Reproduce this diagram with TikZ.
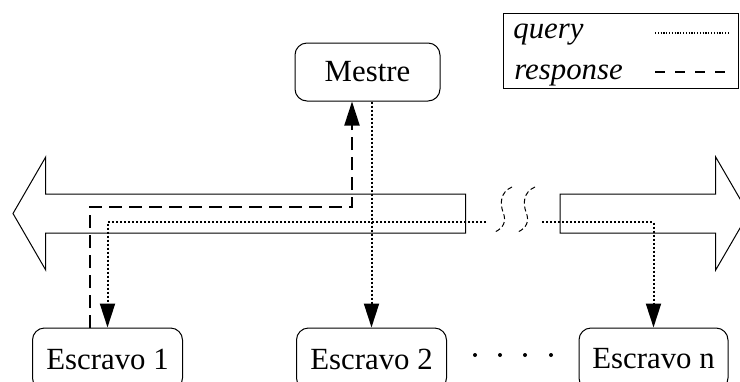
\documentclass[tikz,border=0pt]{standalone}
\usepackage{fontspec}
\setmainfont{Liberation Serif}
\usetikzlibrary{arrows.meta}

\begin{document}
\begin{tikzpicture}[x=0.5pt,y=-0.5pt,font=\fontsize{15.4pt}{18pt}\selectfont]
\useasboundingbox (0,0) rectangle (740,381);
\clip (0,0) rectangle (740,381);
\tikzstyle{box}=[draw,line width=0.5pt,rounded corners=6pt,inner sep=0pt,minimum height=29pt]
\tikzstyle{query}=[line width=1pt,dash pattern=on 1pt off 1pt]
\tikzstyle{response}=[line width=1pt,dash pattern=on 6.5pt off 3.5pt]
\tikzstyle{tip}=[-{Triangle[length=12pt,width=7.5pt]}]
\tikzstyle{cut}=[line width=0.5pt,dash pattern=on 2.5pt off 1.5pt]
% bus
\draw[line width=0.5pt] (465.7,194) -- (45.7,194) -- (45.7,157) -- (13,213.5) -- (45.7,270) -- (45.7,233) -- (465.7,233) -- cycle;
\draw[line width=0.5pt] (560,194) -- (715.7,194) -- (715.7,157) -- (748.5,213.5) -- (715.7,270) -- (715.7,233) -- (560,233) -- cycle;
\draw[cut] (512,187) .. controls (500,192) and (500,204) .. (503,212) .. controls (507,222) and (503,228) .. (495,232);
\draw[cut] (535,187) .. controls (523,192) and (523,204) .. (526,212) .. controls (530,222) and (526,228) .. (518,232);
% nodes
\node[box,minimum width=72.5pt] (m) at (367.5,72) {Mestre};
\node[box,minimum width=75pt,minimum height=31pt] (e1) at (107.5,359) {Escravo 1};
\node[box,minimum width=75pt,minimum height=31pt] (e2) at (371.5,359) {Escravo 2};
\node[box,minimum width=74.5pt,minimum height=31pt] (en) at (653.5,359) {Escravo n};
\foreach \x in {475,500,525,551} \fill (\x,355) circle (1pt);
% query
\coordinate (q1) at (486,222);
\coordinate (q2) at (542,222);
\draw[query,tip] (e2.north |- m.south) -- (e2.north);
\draw[query,tip] (q1) -| (e1.north);
\draw[query,tip] (q2) -| (en.north);
% response
\coordinate (r1) at (352,207);
\draw[response,tip] ([xshift=-9pt]e1.north) |- (r1) -- (r1 |- m.south);
% legend
\draw[line width=0.5pt] (503,13) rectangle (738,88);
\node[anchor=base west,inner sep=0pt] (lq) at (513,38) {\itshape query};
\node[anchor=base west,inner sep=0pt] (lr) at (514,79) {\itshape response};
\coordinate (lq1) at (655,33);
\coordinate (lr1) at (655,72);
\draw[line width=0.6pt,dash pattern=on 0.6pt off 0.8pt] (lq1) -- ++(75,0);
\draw[line width=0.8pt,dash pattern=on 5pt off 5pt] (lr1) -- ++(75,0);
\end{tikzpicture}
\end{document}
